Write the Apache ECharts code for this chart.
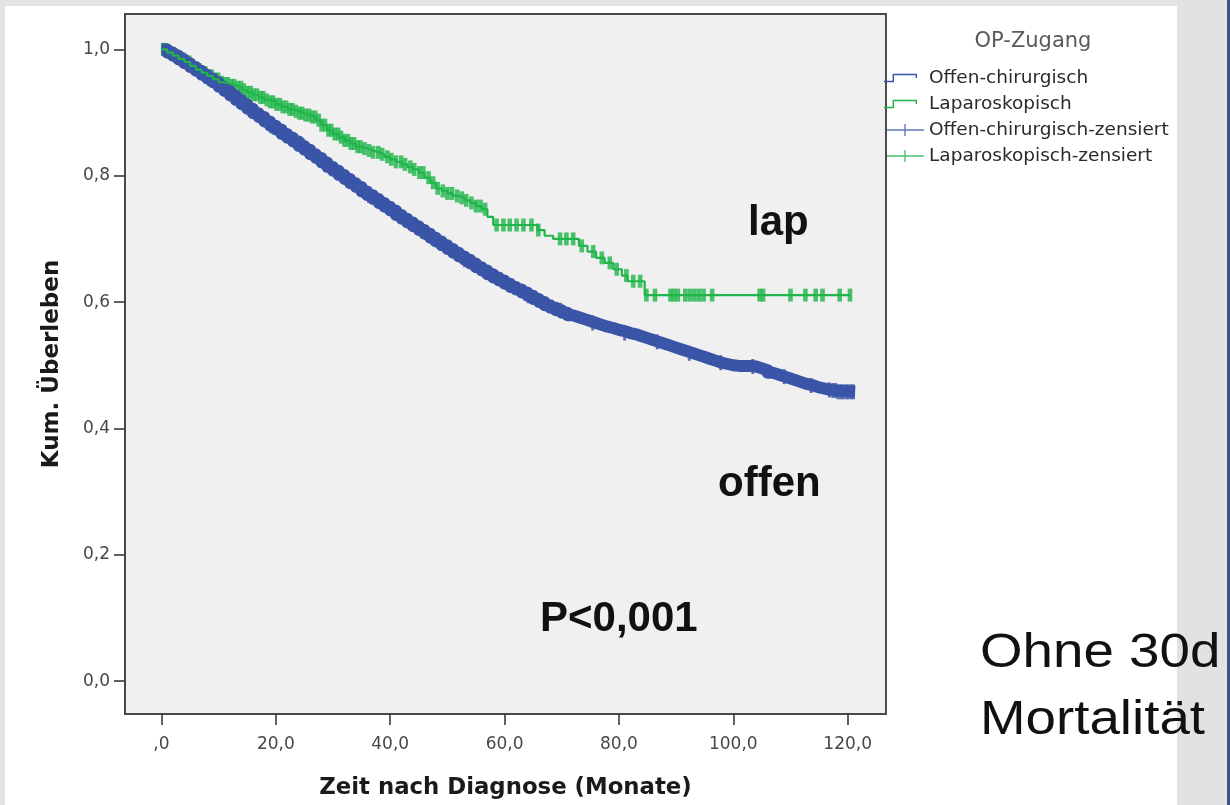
<!DOCTYPE html>
<html>
<head>
<meta charset="utf-8">
<title>Kaplan-Meier: OP-Zugang</title>
<script src="https://cdn.jsdelivr.net/npm/echarts@6/dist/echarts.min.js"></script>
<style>
  html, body { margin: 0; padding: 0; background: #ffffff; }
  #chart { width: 1230px; height: 805px; }
</style>
</head>
<body>
<div id="chart"></div>
<script>
// Kaplan-Meier estimate, open surgery (months, cumulative survival)
const offenZeit = [
  0, 1, 2, 3, 4, 5, 6, 7, 8, 9,
  10, 11, 12, 13, 14, 15, 16, 17, 18, 19,
  20, 21, 22, 23, 24, 25, 26, 27, 28, 29,
  30, 31, 32, 33, 34, 35, 36, 37, 38, 39,
  40, 41, 42, 43, 44, 45, 46, 47, 48, 49,
  50, 51, 52, 53, 54, 55, 56, 57, 58, 59,
  60, 61, 62, 63, 64, 65, 66, 67, 68, 69,
  70, 71, 72, 73, 74, 75, 76, 77, 78, 79,
  80, 81, 82, 83, 84, 85, 86, 87, 88, 89,
  90, 91, 92, 93, 94, 95, 96, 97, 98, 99,
  100, 101, 102, 103, 104, 105, 106, 107, 108, 109,
  110, 111, 112, 113, 114, 115, 116, 117, 118, 121.3
];
const offenUeberleben = [
  1.000, 0.995, 0.990, 0.984, 0.978, 0.972, 0.966, 0.960, 0.954, 0.948,
  0.941, 0.934, 0.927, 0.920, 0.913, 0.906, 0.899, 0.893, 0.886, 0.879,
  0.873, 0.866, 0.860, 0.854, 0.847, 0.841, 0.834, 0.828, 0.821, 0.814,
  0.808, 0.801, 0.795, 0.788, 0.782, 0.775, 0.769, 0.763, 0.757, 0.751,
  0.745, 0.738, 0.732, 0.726, 0.720, 0.714, 0.708, 0.702, 0.696, 0.690,
  0.684, 0.678, 0.672, 0.667, 0.661, 0.655, 0.650, 0.644, 0.639, 0.634,
  0.629, 0.624, 0.620, 0.615, 0.610, 0.605, 0.600, 0.595, 0.591, 0.587,
  0.583, 0.579, 0.576, 0.573, 0.570, 0.567, 0.564, 0.561, 0.559, 0.556,
  0.554, 0.551, 0.549, 0.546, 0.543, 0.540, 0.537, 0.534, 0.531, 0.528,
  0.525, 0.522, 0.519, 0.516, 0.513, 0.510, 0.507, 0.504, 0.502, 0.500,
  0.499, 0.499, 0.499, 0.498, 0.495, 0.492, 0.488, 0.485, 0.482, 0.479,
  0.476, 0.473, 0.470, 0.468, 0.465, 0.463, 0.461, 0.460, 0.458, 0.458
];
// censored cases, open surgery (months)
const offenZensiert = [
  3.5, 8.2, 13.7, 19.1, 24.8, 30.4, 36.2, 41.7, 47.3, 53.0,
  58.6, 64.1, 69.8, 75.4, 81.0, 86.7, 92.3, 97.8, 103.4, 108.9,
  113.6, 116.8, 117.4, 117.9, 118.3, 118.8, 119.2, 119.7, 120.1, 120.6, 121.0
];

// Kaplan-Meier estimate, laparoscopic surgery
const lapZeit = [
  0, 1, 2, 3, 4, 5, 6, 7, 8, 9,
  10, 11, 12, 13, 14, 15, 16, 17, 18, 19,
  20, 21, 22, 23, 24, 25, 26, 27, 28, 29,
  30, 31, 32, 33, 34, 35, 36, 37, 38, 39,
  40, 41, 42, 43, 44, 45, 46, 47, 48, 49,
  50, 51, 52, 53, 54, 55, 56, 57, 58,
  65.8, 67, 68.5, 73, 74.5, 76, 77.5, 79, 80.5, 81.5, 84.5, 120.5
];
const lapUeberleben = [
  1.000, 0.995, 0.990, 0.985, 0.980, 0.974, 0.968, 0.963, 0.958, 0.953,
  0.948, 0.946, 0.943, 0.940, 0.936, 0.932, 0.928, 0.924, 0.920, 0.917,
  0.913, 0.909, 0.905, 0.902, 0.899, 0.896, 0.893, 0.888, 0.880, 0.872,
  0.866, 0.861, 0.856, 0.851, 0.846, 0.843, 0.840, 0.837, 0.834, 0.830,
  0.826, 0.822, 0.818, 0.814, 0.810, 0.805, 0.797, 0.789, 0.780, 0.776,
  0.772, 0.768, 0.765, 0.761, 0.757, 0.752, 0.747, 0.735, 0.722,
  0.714, 0.705, 0.700, 0.689, 0.680, 0.670, 0.662, 0.652, 0.642, 0.633, 0.611, 0.611
];
// censored cases, laparoscopic surgery (months)
const lapZensiert = [
  0.3, 0.8, 1.2, 1.7, 2.3, 2.8, 3.3, 3.9, 4.4, 4.9, 5.5, 6.1, 6.6, 7.2, 7.7,
  8.3, 8.8, 9.4, 9.9, 10.5, 11.1, 11.6, 12.2, 12.7, 13.3, 13.9, 14.4, 15.0, 15.6,
  16.1, 16.7, 17.3, 17.8, 18.4, 19.0, 19.5, 20.1, 20.7, 21.2, 21.8, 22.4, 22.9,
  23.5, 24.1, 24.6, 25.2, 25.8, 26.3, 26.9, 27.5, 28.0, 28.6, 29.2, 29.7, 30.3,
  30.9, 31.4, 32.0, 32.6, 33.1, 33.7, 34.3, 34.8,
  35.5, 36.3, 37.0, 37.9, 38.6, 39.5, 40.2, 41.0, 41.9, 42.6, 43.5, 44.2, 45.1,
  45.8, 46.7, 47.5, 48.3, 49.2, 50.0, 50.8, 51.7, 52.5, 53.3, 54.2, 55.0, 55.8, 56.6,
  58.6, 59.8, 60.9, 62.1, 63.3, 64.7, 65.9, 69.7, 70.8, 72.0, 73.5, 75.5, 77.0,
  78.4, 79.6, 81.3, 82.5, 83.7,
  84.8, 86.3, 89.0, 89.6, 90.3, 91.6, 92.4, 93.2, 94.0, 94.8, 96.3, 104.6, 105.2,
  110.0, 112.6, 114.4, 115.6, 118.6, 120.4
];

// axis ticks and their labels
const xTickValues = [0, 20, 40, 60, 80, 100, 120];
const xTickLabels = [',0', '20,0', '40,0', '60,0', '80,0', '100,0', '120,0'];
const yTickValues = [0, 0.2, 0.4, 0.6, 0.8, 1.0];
const yTickLabels = ['0,0', '0,2', '0,4', '0,6', '0,8', '1,0'];

const seriesNames = ['Offen-chirurgisch', 'Laparoskopisch', 'Offen-chirurgisch-zensiert', 'Laparoskopisch-zensiert'];
const BLUE = '#3a54a8';
const GREEN = '#1fb54a';
const UI_FONT = 'DejaVu Sans';

function pairs(xs, ys) {
  return xs.map((x, i) => [x, ys[i]]);
}
// survival level of a step curve at time t (value of the last step at or before t)
function levelAt(xs, ys, t) {
  let s = ys[0];
  for (let i = 0; i < xs.length; i++) {
    if (xs[i] <= t) s = ys[i]; else break;
  }
  return s;
}
function censorPoints(times, xs, ys) {
  return times.map(t => [t, levelAt(xs, ys, t)]);
}

// legend glyphs: a step line and a tick on a line, framed by invisible corner specks
const STEP_ICON = 'path://M0 0H0.05V0.05H0Z M39.95 12.95H40V13H39.95Z ' +
  'M0 9.3H10V10.7H0Z M8.6 2.3H10V10.7H8.6Z M8.6 2.3H33V3.7H8.6Z M31.6 2.3H33V6.5H31.6Z';
const CENSOR_ICON = 'path://M0 0H0.05V0.05H0Z M39.95 12.95H40V13H39.95Z ' +
  'M3 5.8H40V7.2H3Z M20.3 0.5H21.7V12.5H20.3Z';

const chart = echarts.init(document.getElementById('chart'), null, { renderer: 'canvas' });

chart.setOption({
  animation: false,
  backgroundColor: '#ffffff',
  title: {
    text: 'OP-Zugang',
    left: 1028,
    top: 26,
    textAlign: 'center',
    textStyle: { fontFamily: UI_FONT, fontSize: 21, fontWeight: 'normal', color: '#5a5a5a' }
  },
  legend: {
    orient: 'vertical',
    left: 884,
    top: 68,
    padding: 0,
    itemWidth: 40,
    itemHeight: 13,
    itemGap: 6,
    symbolKeepAspect: false,
    selectedMode: false,
    itemStyle: { borderWidth: 0 },
    textStyle: { fontFamily: UI_FONT, fontSize: 18.5, color: '#2a2a2a', lineHeight: 20 },
    data: [
      { name: seriesNames[0], icon: STEP_ICON, itemStyle: { color: BLUE } },
      { name: seriesNames[1], icon: STEP_ICON, itemStyle: { color: GREEN } },
      { name: seriesNames[2], icon: CENSOR_ICON, itemStyle: { color: BLUE } },
      { name: seriesNames[3], icon: CENSOR_ICON, itemStyle: { color: GREEN } }
    ]
  },
  grid: {
    left: 125,
    top: 14,
    right: 344,
    bottom: 87,
    show: true,
    backgroundColor: '#f0f0f0',
    borderColor: '#4a4a4a',
    borderWidth: 2
  },
  xAxis: {
    type: 'value',
    min: -6.38,
    max: 126.7,
    name: 'Zeit nach Diagnose (Monate)',
    nameLocation: 'middle',
    nameGap: 63,
    nameTextStyle: { fontFamily: UI_FONT, fontSize: 22.8, fontWeight: 'bold', color: '#1a1a1a' },
    axisLine: { show: false, onZero: false },
    splitLine: { show: false },
    axisTick: {
      show: true, inside: false, length: 11,
      customValues: xTickValues,
      lineStyle: { color: '#3a3a3a', width: 1.6 }
    },
    axisLabel: {
      customValues: xTickValues,
      margin: 22,
      fontFamily: UI_FONT, fontSize: 17, color: '#474747',
      formatter: v => xTickLabels[xTickValues.indexOf(v)] ?? ''
    }
  },
  yAxis: {
    type: 'value',
    min: -0.052,
    max: 1.056,
    name: 'Kum. Überleben',
    nameLocation: 'middle',
    nameGap: 61,
    nameTextStyle: { fontFamily: UI_FONT, fontSize: 23, fontWeight: 'bold', color: '#1a1a1a' },
    axisLine: { show: false, onZero: false },
    splitLine: { show: false },
    axisTick: {
      show: true, inside: false, length: 11,
      customValues: yTickValues,
      lineStyle: { color: '#3a3a3a', width: 1.6 }
    },
    axisLabel: {
      customValues: yTickValues,
      margin: 15,
      verticalAlign: 'middle',
      padding: [6, 0, 0, 0],
      fontFamily: UI_FONT, fontSize: 17, color: '#474747',
      formatter: v => {
        const i = yTickValues.findIndex(t => Math.abs(t - v) < 1e-6);
        return i >= 0 ? yTickLabels[i] : '';
      }
    }
  },
  series: [
    {
      name: seriesNames[0],
      type: 'line',
      step: 'end',
      data: pairs(offenZeit, offenUeberleben),
      showSymbol: false,
      silent: true,
      color: BLUE,
      lineStyle: { color: BLUE, width: 12, join: 'round', cap: 'butt' }
    },
    {
      name: seriesNames[2],
      type: 'scatter',
      data: censorPoints(offenZensiert, offenZeit, offenUeberleben),
      symbol: 'rect',
      symbolSize: [3, 15],
      silent: true,
      color: BLUE,
      itemStyle: { color: BLUE }
    },
    {
      name: seriesNames[1],
      type: 'line',
      step: 'end',
      data: pairs(lapZeit, lapUeberleben),
      showSymbol: false,
      silent: true,
      color: GREEN,
      lineStyle: { color: GREEN, width: 2.2 }
    },
    {
      name: seriesNames[3],
      type: 'scatter',
      data: censorPoints(lapZensiert, lapZeit, lapUeberleben),
      symbol: 'rect',
      symbolSize: [4.6, 13],
      silent: true,
      color: GREEN,
      itemStyle: { color: GREEN }
    }
  ],
  graphic: [
    // frame of the slide around the chart
    { type: 'rect', shape: { x: 0, y: 0, width: 1230, height: 6 }, style: { fill: '#e4e4e4' }, silent: true },
    { type: 'rect', shape: { x: 0, y: 0, width: 5, height: 805 }, style: { fill: '#e4e4e4' }, silent: true },
    { type: 'rect', shape: { x: 1177, y: 0, width: 53, height: 805 }, style: { fill: '#e2e2e2' }, silent: true },
    { type: 'rect', shape: { x: 1227, y: 0, width: 3, height: 805 }, style: { fill: '#3d5485' }, silent: true },
    // annotations inside the plot
    { type: 'text', left: 748, top: 202, silent: true,
      style: { text: 'lap', font: 'bold 42px "Liberation Sans"', fill: '#111111' } },
    { type: 'text', left: 718, top: 463, silent: true,
      style: { text: 'offen', font: 'bold 42px "Liberation Sans"', fill: '#111111' } },
    { type: 'text', left: 540, top: 598, silent: true,
      style: { text: 'P<0,001', font: 'bold 42px "Liberation Sans"', fill: '#111111' } },
    // slide caption
    { type: 'text', x: 980, y: 630, scaleX: 1.14, silent: true, z: 10,
      style: { text: 'Ohne 30d', font: '48px "Liberation Sans"', fill: '#111111' } },
    { type: 'text', x: 980, y: 697, scaleX: 1.14, silent: true, z: 10,
      style: { text: 'Mortalität', font: '48px "Liberation Sans"', fill: '#111111' } }
  ]
});
</script>
</body>
</html>
